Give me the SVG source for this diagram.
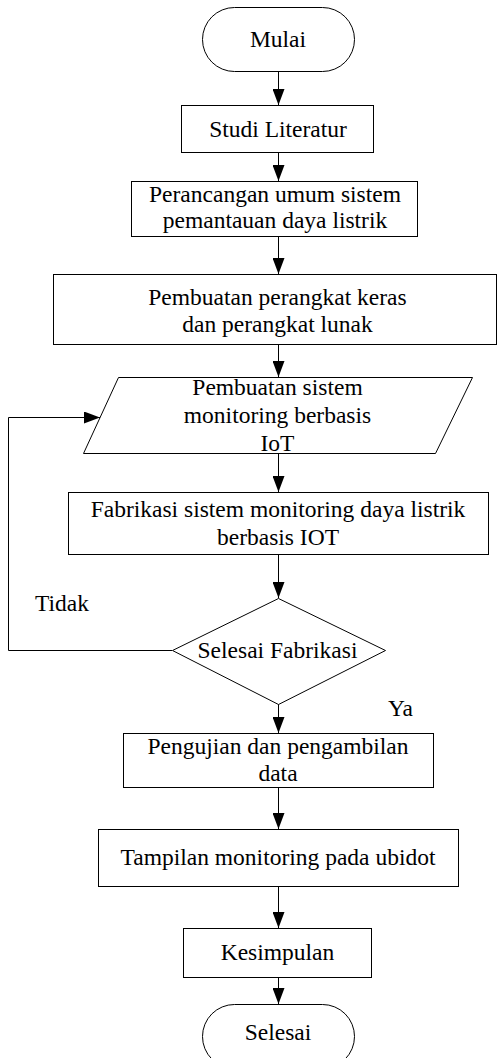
<svg xmlns="http://www.w3.org/2000/svg" width="497" height="1058" viewBox="0 0 497 1058">
<style>
.s{fill:#fff;stroke:#000;stroke-width:1}
.t{font-family:'Liberation Serif','DejaVu Serif','Times New Roman',Times,serif;font-size:23.5px;fill:#000;text-anchor:middle}
.l{font-family:'Liberation Serif','DejaVu Serif','Times New Roman',Times,serif;font-size:23.5px;fill:#000}
.c{fill:none;stroke:#000;stroke-width:1}
</style>
<defs>
<marker id="a" markerUnits="userSpaceOnUse" markerWidth="16" markerHeight="12" refX="16" refY="6" orient="auto">
<path d="M0,0 L16,6 L0,12 z" fill="#000"/>
</marker>
</defs>
<rect x="0" y="0" width="497" height="1058" fill="#fff"/>
<g id="connectors">
<line class="c" x1="278.5" y1="71" x2="278.5" y2="105" marker-end="url(#a)"/>
<line class="c" x1="278.5" y1="153" x2="278.5" y2="181" marker-end="url(#a)"/>
<line class="c" x1="278.5" y1="236" x2="278.5" y2="274" marker-end="url(#a)"/>
<line class="c" x1="278.5" y1="345" x2="278.5" y2="377" marker-end="url(#a)"/>
<line class="c" x1="278.5" y1="453" x2="278.5" y2="492" marker-end="url(#a)"/>
<line class="c" x1="278.5" y1="555" x2="278.5" y2="598" marker-end="url(#a)"/>
<line class="c" x1="278.5" y1="704" x2="278.5" y2="733" marker-end="url(#a)"/>
<line class="c" x1="278.5" y1="787" x2="278.5" y2="829" marker-end="url(#a)"/>
<line class="c" x1="278.5" y1="886" x2="278.5" y2="928" marker-end="url(#a)"/>
<line class="c" x1="278.5" y1="977" x2="278.5" y2="1004" marker-end="url(#a)"/>
<polyline class="c" points="172,650.5 8.5,650.5 8.5,417.5 100,417.5" marker-end="url(#a)"/>
<text class="l" x="35" y="611">Tidak</text>
<text class="l" x="388" y="716">Ya</text>
</g>
<g id="mulai">
<rect class="s" x="202.5" y="7.5" width="152" height="64" rx="32" ry="32"/>
<text class="t" x="278" y="47">Mulai</text>
</g>
<g id="studi">
<rect class="s" x="181.5" y="105.5" width="192" height="47"/>
<text class="t" x="278" y="137">Studi Literatur</text>
</g>
<g id="perancangan">
<rect class="s" x="131.5" y="181.5" width="286" height="55"/>
<text class="t" x="275" y="202">Perancangan umum sistem</text>
<text class="t" x="275" y="228">pemantauan daya listrik</text>
</g>
<g id="pembuatan">
<rect class="s" x="53.5" y="274.5" width="443" height="70"/>
<text class="t" x="277.5" y="305">Pembuatan perangkat keras</text>
<text class="t" x="277.5" y="332">dan perangkat lunak</text>
</g>
<g id="sistem">
<polygon class="s" points="118.5,377.5 472.5,377.5 435.5,453.5 83.5,453.5"/>
<text class="t" x="277.5" y="395">Pembuatan sistem</text>
<text class="t" x="277.5" y="423">monitoring berbasis</text>
<text class="t" x="277.5" y="451">IoT</text>
</g>
<g id="fabrikasi">
<rect class="s" x="68.5" y="492.5" width="420" height="62"/>
<text class="t" x="278" y="517">Fabrikasi sistem monitoring daya listrik</text>
<text class="t" x="278" y="545">berbasis IOT</text>
</g>
<g id="keputusan">
<polygon class="s" points="278.5,598.5 385.5,650.5 278.5,704.5 172.5,650.5"/>
<text class="t" x="277.5" y="658">Selesai Fabrikasi</text>
</g>
<g id="pengujian">
<rect class="s" x="123.5" y="733.5" width="310" height="54"/>
<text class="t" x="278" y="754">Pengujian dan pengambilan</text>
<text class="t" x="278" y="781">data</text>
</g>
<g id="tampilan">
<rect class="s" x="98.5" y="829.5" width="360" height="57"/>
<text class="t" x="278" y="865">Tampilan monitoring pada ubidot</text>
</g>
<g id="kesimpulan">
<rect class="s" x="183.5" y="928.5" width="188" height="49"/>
<text class="t" x="277.5" y="960">Kesimpulan</text>
</g>
<g id="selesai">
<rect class="s" x="202.5" y="1004.5" width="152" height="64" rx="32" ry="32"/>
<text class="t" x="278" y="1040">Selesai</text>
</g>
</svg>
